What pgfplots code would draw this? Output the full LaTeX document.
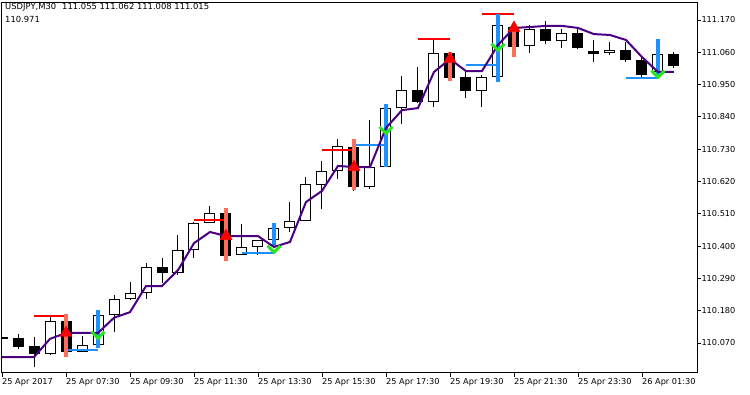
\documentclass[border=0pt]{standalone}
\usepackage{pgfplots}
\pgfplotsset{compat=1.18}
\usepackage{pgfplotstable}
\usepackage{fontspec}
\setmainfont{DejaVu Sans}
\definecolor{maind}{RGB}{75,0,130}
\definecolor{salm}{RGB}{250,112,90}
\definecolor{dblue}{RGB}{30,144,255}
\definecolor{lgreen}{RGB}{40,230,30}
\pgfdeclareplotmark{chev}{%
 \pgfpathmoveto{\pgfpoint{-\pgfplotmarksize}{0.5\pgfplotmarksize}}%
 \pgfpathlineto{\pgfpoint{0pt}{-0.5\pgfplotmarksize}}%
 \pgfpathlineto{\pgfpoint{\pgfplotmarksize}{0.5\pgfplotmarksize}}%
 \pgfusepathqstroke}

\pgfplotstableread{
x o h l c
3 110.032 110.162 110.029 110.145
5 110.039 110.094 110.039 110.063
6 110.063 110.175 110.057 110.165
7 110.165 110.233 110.107 110.220
8 110.220 110.278 110.216 110.240
9 110.240 110.342 110.220 110.329
11 110.308 110.438 110.301 110.387
12 110.387 110.482 110.359 110.479
13 110.479 110.537 110.479 110.513
15 110.370 110.475 110.370 110.397
16 110.397 110.421 110.370 110.421
17 110.421 110.479 110.410 110.462
18 110.462 110.550 110.448 110.485
19 110.485 110.635 110.485 110.611
20 110.608 110.690 110.526 110.656
21 110.656 110.765 110.628 110.741
23 110.601 110.829 110.594 110.669
24 110.669 110.884 110.669 110.870
25 110.870 110.979 110.816 110.932
27 110.891 111.105 110.874 111.058
30 110.928 110.983 110.874 110.976
31 110.976 111.190 110.959 111.153
33 111.081 111.153 111.058 111.139
35 111.098 111.139 111.075 111.126
38 111.058 111.095 111.051 111.068
41 110.993 111.105 110.983 111.054
}\bulls

\pgfplotstableread{
x o h l c
0 110.089 110.089 110.085 110.085
1 110.087 110.101 110.049 110.057
2 110.060 110.090 109.988 110.032
4 110.145 110.169 110.029 110.039
10 110.329 110.359 110.274 110.308
14 110.513 110.526 110.349 110.366
22 110.737 110.765 110.588 110.601
26 110.932 111.010 110.887 110.891
28 111.058 111.061 110.962 110.972
29 110.976 110.993 110.904 110.928
32 111.146 111.163 111.044 111.078
34 111.139 111.167 111.088 111.098
36 111.126 111.139 111.071 111.075
37 111.064 111.102 111.027 111.054
39 111.068 111.095 111.027 111.034
40 111.034 111.047 110.976 110.983
42 111.055 111.062 111.008 111.015
}\bears

\pgfplotstableread{
x y
0 110.022
1 110.022
2 110.022
3 110.084
4 110.104
5 110.104
6 110.104
7 110.156
8 110.175
9 110.264
10 110.264
11 110.318
12 110.410
13 110.448
14 110.434
15 110.434
16 110.434
17 110.397
18 110.414
19 110.550
20 110.588
21 110.673
22 110.669
23 110.669
24 110.802
25 110.863
26 110.870
27 110.993
28 111.037
29 110.996
30 110.996
31 111.085
32 111.143
33 111.146
34 111.150
35 111.150
36 111.143
37 111.122
38 111.119
39 111.102
40 111.044
41 110.993
42 110.993
}\ma

\pgfplotstableread{
x lo hi arr
4 110.022 110.169 110.104
14 110.349 110.530 110.434
22 110.591 110.765 110.669
28 110.962 111.061 111.037
32 111.044 111.153 111.143
}\sells

\pgfplotstableread{
x lo hi arr
6 110.053 110.182 110.097
17 110.397 110.479 110.390
24 110.669 110.884 110.795
31 110.959 111.190 111.078
41 110.983 111.105 110.986
}\buys

\pgfplotstableread{
x1 x2 y
2 4 110.162
12 14 110.489
20 22 110.727
26 28 111.105
30 32 111.190
}\redlines

\pgfplotstableread{
x1 x2 y
4 6 110.046
15 17 110.376
22 24 110.744
29 31 111.017
39 41 110.972
}\bluelines

\begin{document}
\begin{tikzpicture}
\path[use as bounding box] (0,0) rectangle (750pt,-394pt);
\begin{axis}[
 at={(1.7pt,-2.5pt)}, anchor=north west,
 scale only axis, width=695.6pt, height=370.2pt,
 xmin=-0.02, xmax=43.46, ymin=109.9687, ymax=111.2296,
 axis line style={black, line width=0.8pt},
 xtick={0,4,...,40},
 xticklabels={25 Apr 2017,25 Apr 07:30,25 Apr 09:30,25 Apr 11:30,25 Apr 13:30,25 Apr 15:30,25 Apr 17:30,25 Apr 19:30,25 Apr 21:30,25 Apr 23:30,26 Apr 01:30},
 ytick={110.07,110.18,110.29,110.40,110.51,110.62,110.73,110.84,110.95,111.06,111.17},
 yticklabels={110.070,110.180,110.290,110.400,110.510,110.620,110.730,110.840,110.950,111.060,111.170},
 xtick pos=left, ytick pos=right, yticklabel pos=right,
 tick align=outside, major tick length=4pt,
 tick style={black, line width=0.8pt},
 every tick label/.append style={font=\fontsize{8.2}{9.6}\selectfont, inner sep=0pt},
 xticklabel style={anchor=north west, yshift=-2pt},
 yticklabel style={anchor=west},
 /pgf/number format/assume math mode=true,
 scaled y ticks=false,
 clip=true,
]
% wicks
\addplot[black, line width=1pt, quiver={u=0, v=\thisrow{h}-\thisrow{l}}] table[x=x, y=l] {\bulls};
\addplot[black, line width=1pt, quiver={u=0, v=\thisrow{h}-\thisrow{l}}] table[x=x, y=l] {\bears};
% bodies
\addplot[black, line width=11pt, quiver={u=0, v=\thisrow{c}-\thisrow{o}}] table[x=x, y=o] {\bulls};
\addplot[white, line width=9pt, shorten <=1pt, shorten >=1pt, quiver={u=0, v=\thisrow{c}-\thisrow{o}}] table[x=x, y=o] {\bulls};
\addplot[black, line width=11pt, quiver={u=0, v=\thisrow{c}-\thisrow{o}}] table[x=x, y=o] {\bears};
% level lines
\addplot[red, line width=2pt, quiver={u=\thisrow{x2}-\thisrow{x1}, v=0}] table[x=x1, y=y] {\redlines};
\addplot[dblue, line width=2pt, quiver={u=\thisrow{x2}-\thisrow{x1}, v=0}] table[x=x1, y=y] {\bluelines};
% buy chevrons
\addplot[lgreen, only marks, mark=chev, mark size=6.5pt, line width=3pt] table[x=x, y=arr] {\buys};
% signal bars
\addplot[dblue, line width=4pt, quiver={u=0, v=\thisrow{hi}-\thisrow{lo}}] table[x=x, y=lo] {\buys};
\addplot[salm, line width=4pt, quiver={u=0, v=\thisrow{hi}-\thisrow{lo}}] table[x=x, y=lo] {\sells};
\addplot[red, only marks, mark=triangle*, mark size=7pt] table[x=x, y=arr] {\sells};
% MA
\addplot[maind, line width=2pt] table[x=x, y=y] {\ma};
\end{axis}
\node[anchor=north west, inner sep=0pt, font=\fontsize{8.4}{9.6}\selectfont] at (5pt,-3pt) {USDJPY,M30\hspace{6pt}111.055 111.062 111.008 111.015};
\node[anchor=north west, inner sep=0pt, font=\fontsize{8.4}{9.6}\selectfont] at (5pt,-16pt) {110.971};
\end{tikzpicture}
\end{document}
